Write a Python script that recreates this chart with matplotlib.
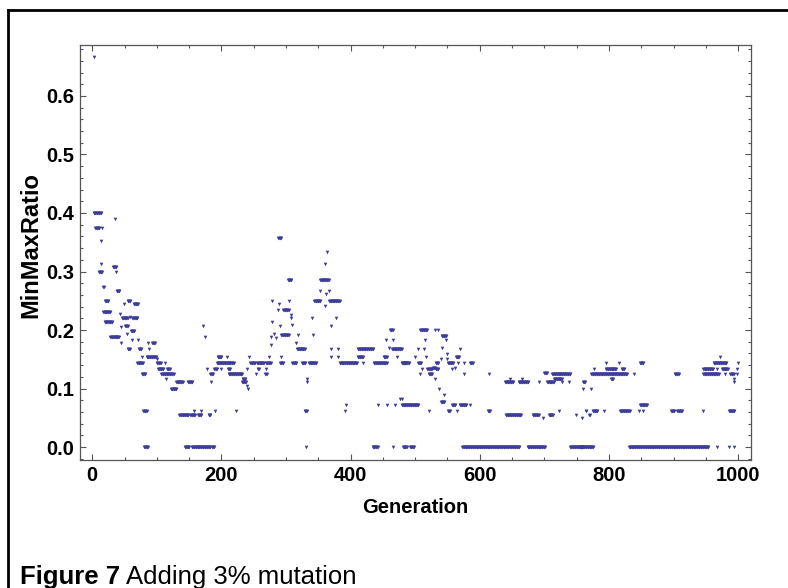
import matplotlib
matplotlib.use('Agg')
import matplotlib.pyplot as plt
from matplotlib.lines import Line2D
from matplotlib.ticker import MultipleLocator
import numpy as np

plt.rcParams.update({
    'font.family': ['Liberation Sans', 'DejaVu Sans'],
    'xtick.direction': 'in',
    'ytick.direction': 'in',
})

# runs of constant MinMaxRatio: first gen, last gen, ratio
run_first = [
    3, 2, 5, 10, 13, 14, 15, 17, 17, 19, 20, 28, 32, 35, 37, 38, 43, 45, 45, 46,
    49, 51, 54, 55, 55, 58, 60, 61, 62, 64, 70, 71, 72, 77, 77, 79, 80, 84, 86, 88,
    93, 100, 100, 102, 107, 112, 114, 116, 122, 130, 135, 143, 148, 152, 154, 158, 164, 168, 171, 174,
    177, 180, 183, 184, 185, 189, 190, 193, 194, 200, 208, 210, 211, 223, 232, 233, 239, 240, 241, 243,
    245, 253, 255, 256, 268, 269, 269, 273, 277, 277, 278, 279, 282, 284, 287, 288, 289, 291, 291, 293,
    293, 296, 303, 304, 308, 308, 310, 310, 316, 317, 318, 325, 329, 331, 332, 333, 335, 340, 342, 344,
    352, 353, 360, 361, 362, 364, 366, 367, 369, 370, 370, 378, 380, 381, 383, 392, 393, 411, 411, 419,
    434, 436, 442, 451, 455, 457, 460, 461, 464, 465, 466, 469, 472, 476, 477, 479, 479, 479, 481, 481,
    492, 500, 505, 505, 508, 508, 510, 514, 515, 517, 519, 521, 522, 527, 530, 530, 532, 532, 536, 537,
    540, 540, 541, 542, 544, 547, 549, 549, 551, 551, 557, 557, 561, 563, 565, 567, 569, 569, 573, 575,
    576, 585, 585, 613, 615, 639, 640, 646, 647, 660, 666, 674, 682, 692, 698, 700, 704, 707, 712, 715,
    722, 727, 738, 740, 749, 755, 758, 760, 760, 764, 765, 769, 770, 773, 773, 775, 777, 792, 795, 796,
    803, 815, 817, 820, 831, 839, 846, 848, 848, 853, 853, 896, 902, 906, 945, 946, 946, 962, 968, 968,
    972, 975, 980, 986, 986, 988, 993, 994, 994, 998, 998, 1000,
]
run_last = [
    3, 14, 11, 15, 13, 14, 15, 18, 28, 31, 25, 41, 37, 35, 37, 42, 43, 45, 45, 55,
    49, 55, 54, 59, 58, 58, 65, 61, 70, 71, 78, 71, 76, 77, 82, 84, 86, 99, 86, 88,
    97, 100, 106, 110, 126, 112, 114, 120, 130, 140, 149, 150, 155, 159, 183, 158, 169, 168, 171, 174,
    177, 183, 187, 184, 189, 193, 190, 219, 200, 200, 208, 213, 232, 223, 238, 237, 239, 240, 241, 243,
    252, 253, 266, 258, 270, 269, 276, 273, 277, 277, 278, 279, 282, 284, 287, 292, 289, 291, 296, 293,
    304, 304, 308, 304, 308, 308, 310, 316, 316, 329, 318, 330, 332, 331, 332, 333, 347, 340, 342, 353,
    352, 366, 360, 361, 362, 364, 366, 383, 369, 370, 370, 378, 380, 381, 410, 392, 393, 419, 435, 419,
    442, 456, 442, 456, 455, 457, 460, 465, 479, 465, 466, 469, 472, 476, 477, 479, 486, 505, 487, 491,
    498, 500, 505, 509, 508, 518, 510, 514, 515, 517, 526, 526, 522, 531, 530, 530, 536, 536, 536, 537,
    540, 545, 548, 542, 544, 547, 549, 549, 554, 559, 557, 562, 561, 568, 565, 567, 569, 579, 644, 575,
    576, 585, 589, 616, 615, 652, 664, 661, 647, 675, 666, 701, 691, 692, 698, 704, 715, 713, 740, 727,
    722, 727, 738, 760, 749, 776, 758, 763, 760, 764, 765, 769, 770, 773, 828, 782, 777, 792, 811, 796,
    806, 815, 832, 824, 851, 839, 846, 853, 859, 853, 954, 901, 908, 913, 945, 970, 961, 982, 968, 968,
    972, 984, 980, 986, 994, 993, 993, 994, 994, 998, 998, 1000,
]
run_ratio = [
    0.667, 0.400, 0.375, 0.300, 0.353, 0.3125, 0.375, 0.273, 0.231, 0.214, 0.250, 0.1875, 0.308, 0.390, 0.300, 0.267, 0.227, 0.205, 0.178, 0.220,
    0.244, 0.207, 0.193, 0.250, 0.167, 0.222, 0.198, 0.183, 0.220, 0.244, 0.143, 0.183, 0.167, 0.154, 0.125, 0.0625, 0.0, 0.154, 0.178, 0.167,
    0.178, 0.150, 0.143, 0.133, 0.125, 0.143, 0.117, 0.133, 0.100, 0.111, 0.0556, 0.0, 0.111, 0.0556, 0.0, 0.0625, 0.0556, 0.0625, 0.207, 0.1875,
    0.133, 0.0556, 0.125, 0.111, 0.0, 0.133, 0.0625, 0.143, 0.154, 0.133, 0.154, 0.133, 0.125, 0.0625, 0.111, 0.117, 0.105, 0.133, 0.100, 0.154,
    0.143, 0.125, 0.143, 0.133, 0.125, 0.133, 0.143, 0.154, 0.1875, 0.174, 0.250, 0.214, 0.194, 0.186, 0.235, 0.357, 0.244, 0.207, 0.143, 0.154,
    0.192, 0.235, 0.286, 0.250, 0.220, 0.225, 0.208, 0.143, 0.178, 0.167, 0.191, 0.143, 0.0625, 0.0, 0.111, 0.117, 0.143, 0.220, 0.192, 0.250,
    0.267, 0.286, 0.241, 0.312, 0.262, 0.333, 0.267, 0.250, 0.167, 0.207, 0.154, 0.220, 0.154, 0.167, 0.143, 0.0625, 0.0714, 0.154, 0.167, 0.143,
    0.0, 0.143, 0.0714, 0.154, 0.183, 0.0714, 0.170, 0.200, 0.167, 0.183, 0.0, 0.0714, 0.154, 0.083, 0.167, 0.082, 0.143, 0.0714, 0.0, 0.143,
    0.0, 0.154, 0.167, 0.143, 0.125, 0.200, 0.133, 0.167, 0.183, 0.154, 0.133, 0.125, 0.0625, 0.136, 0.200, 0.117, 0.143, 0.133, 0.200, 0.100,
    0.150, 0.0769, 0.190, 0.170, 0.089, 0.183, 0.159, 0.150, 0.0625, 0.143, 0.133, 0.0714, 0.136, 0.154, 0.0625, 0.143, 0.167, 0.0714, 0.0, 0.143,
    0.125, 0.0714, 0.143, 0.0625, 0.125, 0.111, 0.0556, 0.0, 0.117, 0.111, 0.117, 0.0, 0.0556, 0.111, 0.049, 0.127, 0.111, 0.0556, 0.125, 0.117,
    0.0625, 0.111, 0.111, 0.0, 0.0556, 0.0, 0.049, 0.111, 0.100, 0.0625, 0.0625, 0.0556, 0.0556, 0.100, 0.125, 0.0625, 0.133, 0.0625, 0.133, 0.143,
    0.117, 0.143, 0.0625, 0.133, 0.0, 0.125, 0.0625, 0.143, 0.0714, 0.0625, 0.0, 0.0625, 0.125, 0.0625, 0.0625, 0.125, 0.133, 0.143, 0.0, 0.133,
    0.154, 0.133, 0.125, 0.0, 0.0625, 0.125, 0.117, 0.0, 0.111, 0.125, 0.133, 0.143,
]

gens = np.concatenate([np.arange(a, b + 1) for a, b in zip(run_first, run_last)])
ratios = np.concatenate([np.full(b - a + 1, r) for a, b, r in zip(run_first, run_last, run_ratio)])

fig = plt.figure(figsize=(7.88, 5.88), dpi=100)
ax = fig.add_axes([80 / 788, 128 / 588, 671 / 788, 415 / 588])

ax.plot(gens, ratios, linestyle='none', marker='v', markersize=2.6,
        color='#3d3d99', markeredgewidth=0)

ax.set_xlim(-19, 1020)
ax.set_ylim(-0.022, 0.687)
ax.xaxis.set_minor_locator(MultipleLocator(50))
ax.yaxis.set_minor_locator(MultipleLocator(0.02))
ax.set_xticks(np.arange(0, 1001, 200))
ax.set_yticks(np.arange(0, 0.61, 0.1))
ax.set_yticklabels([f'{v:.1f}' for v in np.arange(0, 0.61, 0.1)])

frame_grey = '#555555'
for s in ax.spines.values():
    s.set_color(frame_grey)
    s.set_linewidth(0.9)
ax.tick_params(which='both', top=True, right=True, color=frame_grey, width=0.8)
ax.tick_params(which='major', length=4.5, labelsize=14.5, pad=4)
ax.tick_params(which='minor', length=2.5)
for lab in ax.get_xticklabels() + ax.get_yticklabels():
    lab.set_fontweight('bold')

ax.set_xlabel('Generation', fontsize=14.5, fontweight='bold', labelpad=10)
ax.set_ylabel('MinMaxRatio', fontsize=17, fontweight='bold')
ax.yaxis.set_label_coords(-0.056, 0.518)

# outer frame of the figure panel
fig.add_artist(Line2D([8 / 788, 8 / 788], [0, 1 - 10 / 588], transform=fig.transFigure,
                      color='black', linewidth=2))
fig.add_artist(Line2D([8 / 788, 1], [1 - 10 / 588, 1 - 10 / 588], transform=fig.transFigure,
                      color='black', linewidth=2))

t = fig.text(20 / 788, 4 / 588, 'Figure 7', fontsize=18.5, fontweight='bold', va='baseline')
fig.canvas.draw()
bb = t.get_window_extent()
fig.text(bb.x1 / 788 + 0.007, 4 / 588, 'Adding 3% mutation', fontsize=18.5, va='baseline')

fig.savefig('out.png', dpi=100)
